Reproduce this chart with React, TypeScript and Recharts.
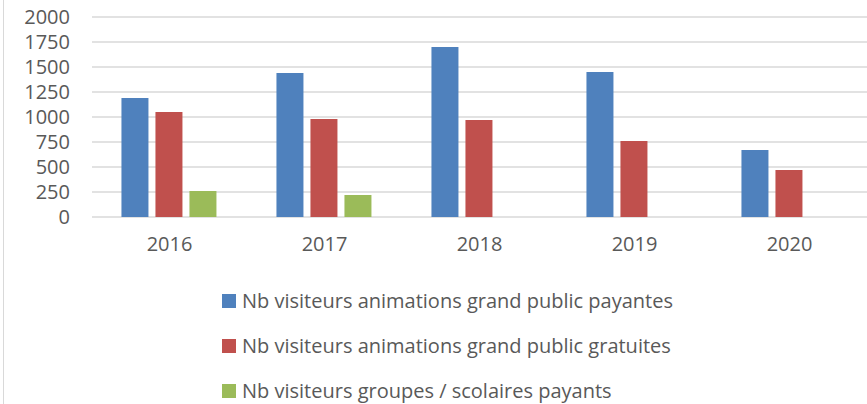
import React from 'react';
import { BarChart, Bar, XAxis, YAxis, CartesianGrid, Legend } from 'recharts';

const years = ['2016', '2017', '2018', '2019', '2020'];
const payantes = [1190, 1440, 1700, 1450, 670];
const gratuites = [1050, 980, 970, 760, 470];
const scolaires: (number | null)[] = [260, 220, null, null, null];
const yTicks = [0, 250, 500, 750, 1000, 1250, 1500, 1750, 2000];

const seriesNames = [
  'Nb visiteurs animations grand public payantes',
  'Nb visiteurs animations grand public gratuites',
  'Nb visiteurs groupes / scolaires payants',
];
const seriesColors = ['#4f81bd', '#c0504d', '#9bbb59'];

const data = years.map((year, i) => ({
  year,
  payantes: payantes[i],
  gratuites: gratuites[i],
  scolaires: scolaires[i],
}));

const FONT = '"Open Sans", sans-serif';
const TEXT = '#595959';

// legend laid out like the office one: stacked rows in series order, square swatch on the left
const renderLegend = () => (
  <div style={{ paddingLeft: 222, paddingTop: 11 }}>
    {seriesNames.map((name, i) => (
      <div
        key={name}
        style={{ display: 'flex', alignItems: 'center', height: 45, fontFamily: FONT, fontSize: 20, color: TEXT, whiteSpace: 'nowrap' }}
      >
        <span style={{ width: 14, height: 14, background: seriesColors[i], marginRight: 6, display: 'inline-block' }} />
        {name}
      </div>
    ))}
  </div>
);

export default function App() {
  return (
    <div style={{ position: 'absolute', left: 0, top: 0, width: 867, height: 404, background: '#fff', overflow: 'hidden' }}>
      <div style={{ position: 'absolute', left: 3, top: 0, width: 1, height: 404, background: '#d9d9d9' }} />
      <BarChart
        width={867}
        height={404}
        data={data}
        margin={{ top: 17, right: 0, left: 0, bottom: 0 }}
        barCategoryGap="19%"
        barGap={7}
      >
        <CartesianGrid vertical={false} stroke="#d9d9d9" strokeWidth={1.5} />
        <XAxis
          dataKey="year"
          axisLine={false}
          tickLine={false}
          height={50}
          tickMargin={14}
          tick={{ fill: TEXT, fontSize: 20, fontFamily: FONT }}
        />
        <YAxis
          width={92}
          domain={[0, 2000]}
          ticks={yTicks}
          axisLine={false}
          tickLine={false}
          tickMargin={16}
          interval={0}
          tick={{ fill: TEXT, fontSize: 20, fontFamily: FONT }}
        />
        <Legend verticalAlign="bottom" height={137} content={renderLegend} />
        <Bar dataKey="payantes" name={seriesNames[0]} fill={seriesColors[0]} isAnimationActive={false} />
        <Bar dataKey="gratuites" name={seriesNames[1]} fill={seriesColors[1]} isAnimationActive={false} />
        <Bar dataKey="scolaires" name={seriesNames[2]} fill={seriesColors[2]} isAnimationActive={false} />
      </BarChart>
    </div>
  );
}
